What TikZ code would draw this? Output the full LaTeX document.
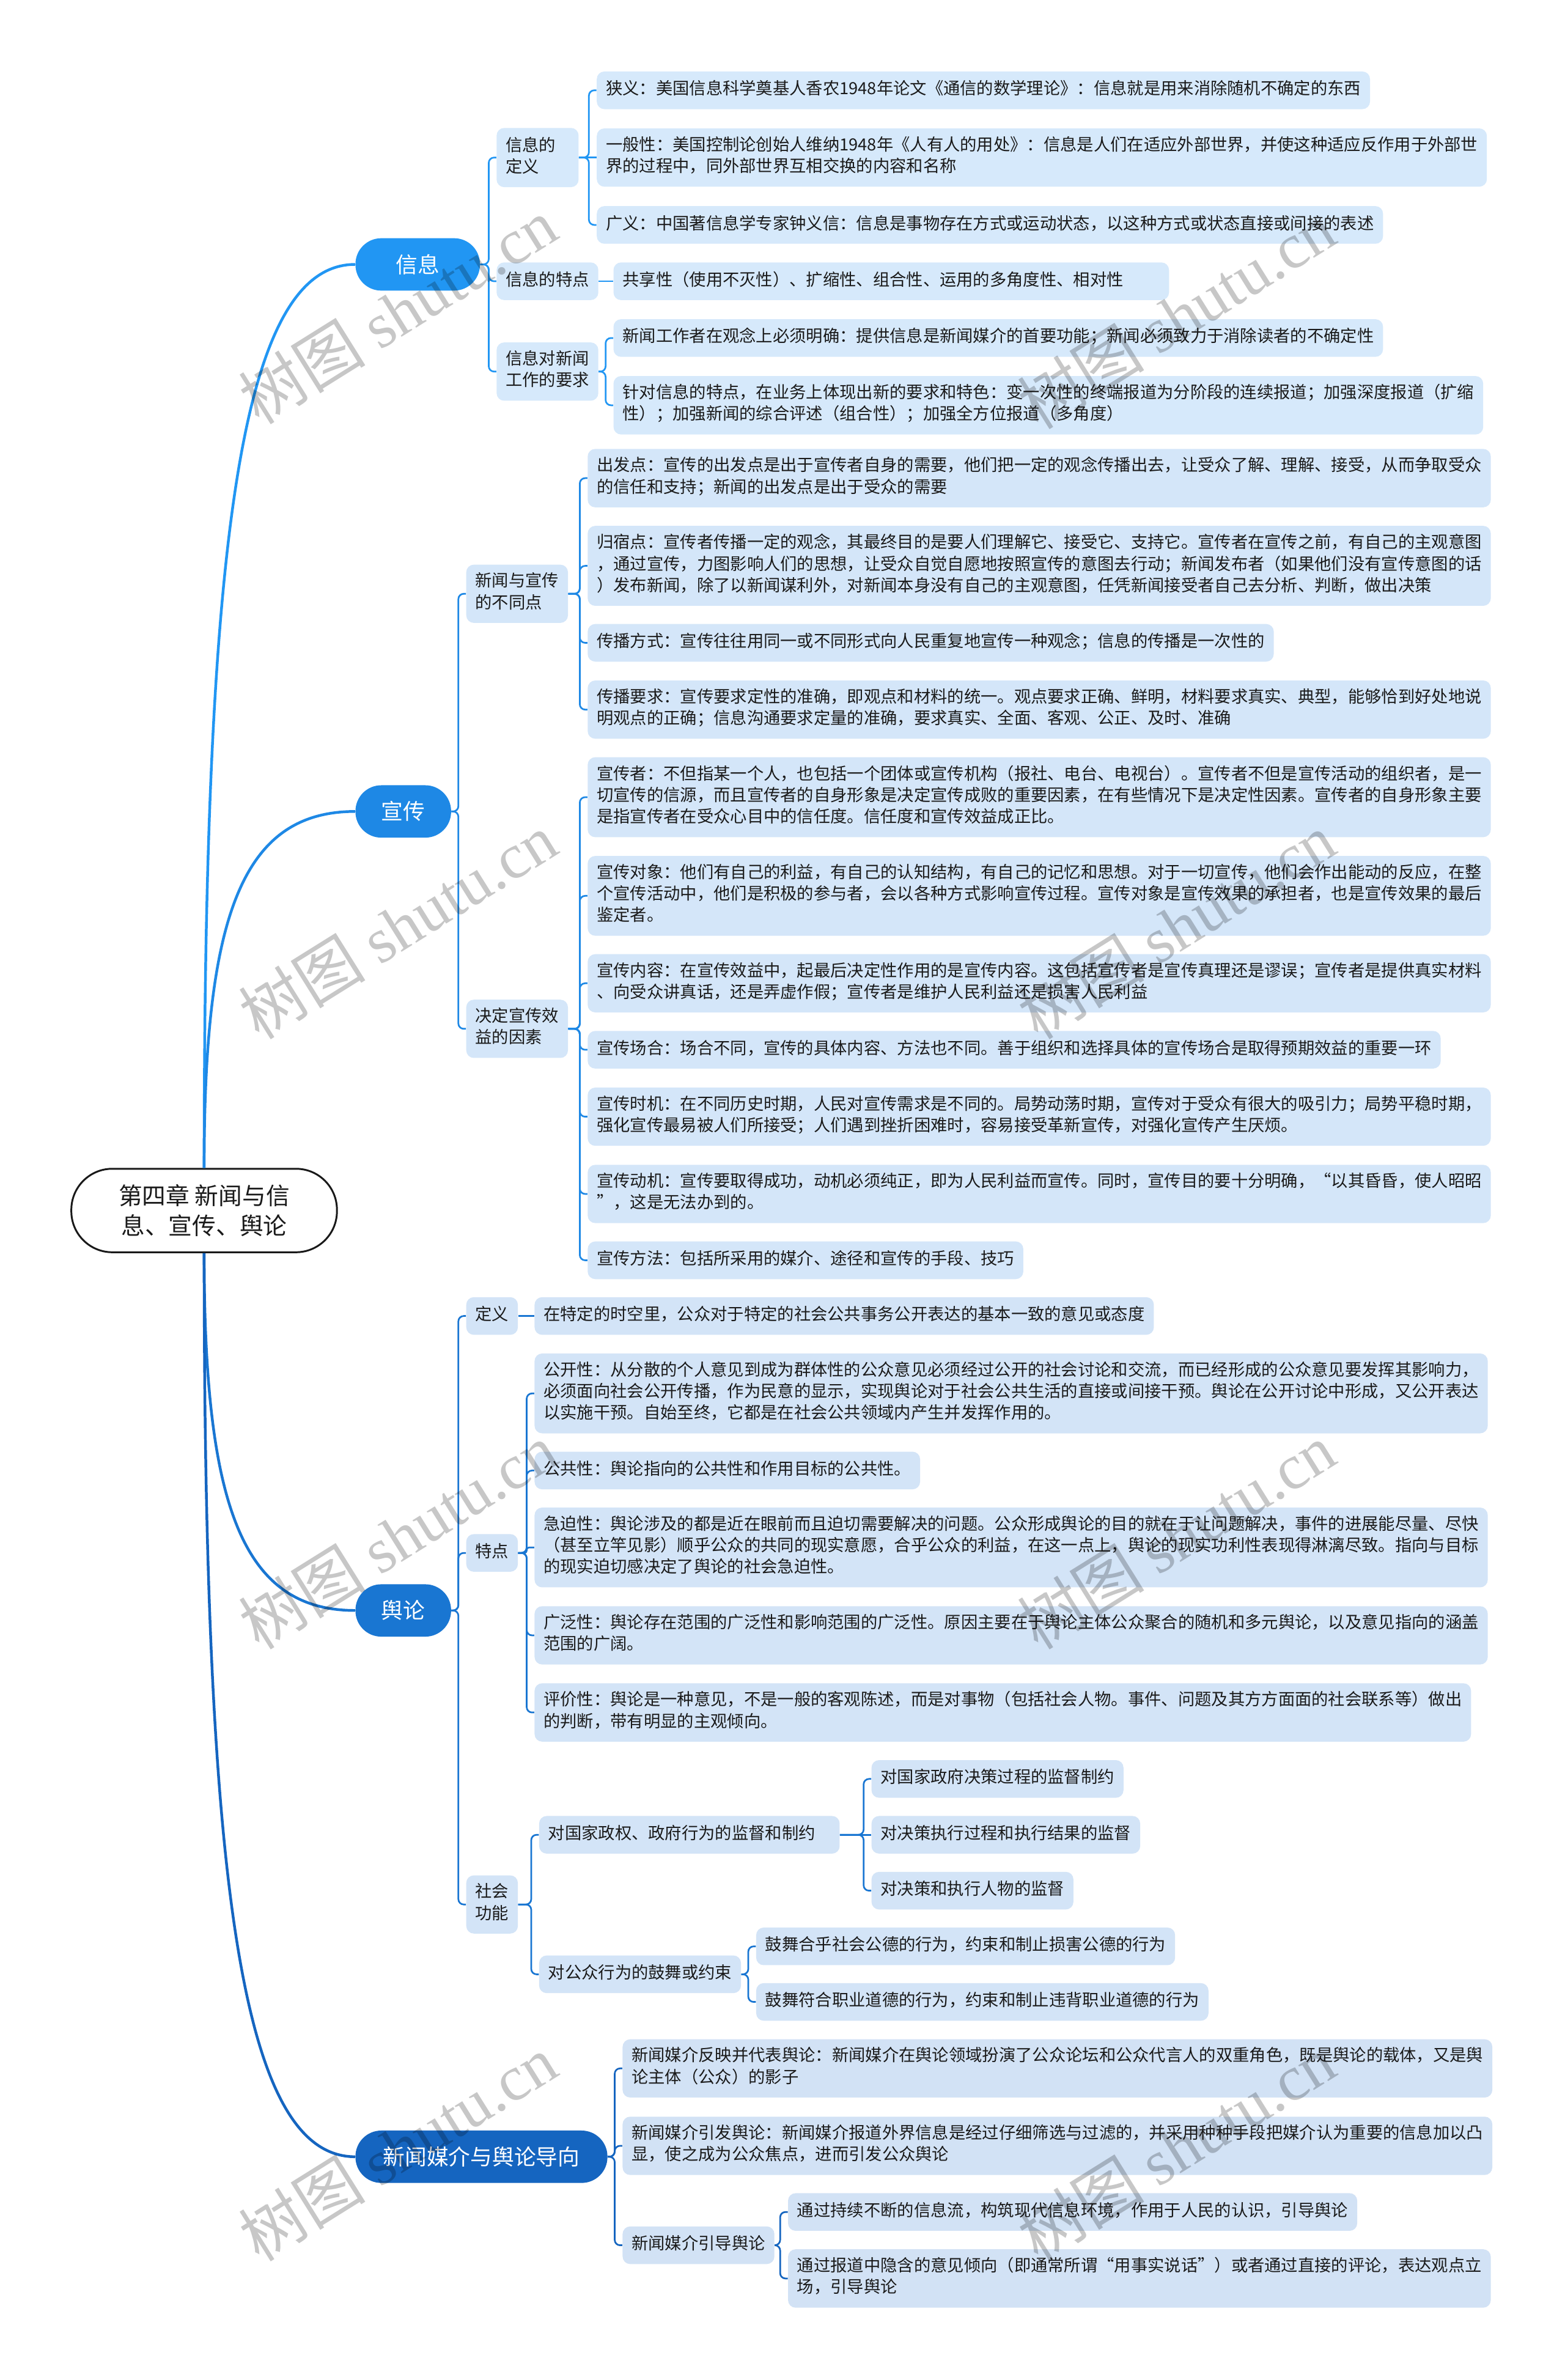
\documentclass[tikz,border=0pt]{standalone}
\usepackage{fontspec}
\setmainfont{Noto Sans CJK SC}
\newfontfamily\wmfont{Liberation Serif}
\definecolor{c1}{HTML}{2196F3}
\definecolor{c2}{HTML}{1E88E5}
\definecolor{c3}{HTML}{1976D2}
\definecolor{c4}{HTML}{1565C0}
\definecolor{f1}{HTML}{D6E9FB}
\definecolor{f2}{HTML}{D4E6F9}
\definecolor{f3}{HTML}{D3E4F7}
\definecolor{f4}{HTML}{D2E2F5}
\definecolor{txt}{HTML}{1A1A1A}
\tikzset{
  rootnode/.style={draw=black!90, line width=1.2pt, fill=white, rounded corners=27pt,
    minimum width=175pt, minimum height=55pt, align=center, text=txt,
    font=\fontsize{15.6}{20}\selectfont},
  lone/.style={fill=#1, text=white, rounded corners=17pt, minimum height=34.5pt,
    inner xsep=16pt, inner ysep=0pt, anchor=west, font=\fontsize{14.4}{17}\selectfont},
  leaf/.style={fill=#1, rounded corners=5pt, inner xsep=6pt, inner ysep=5.3pt,
    align=left, anchor=west, text=txt, font=\fontsize{11}{14.2}\selectfont,
    execute at begin node=\strut, execute at end node=\strut},
  conn/.style={draw=#1, line width=1.1pt, rounded corners=3.5pt},
  rconn/.style={draw=#1, line width=1.8pt},
  wm/.style={text=black, text opacity=0.22, rotate=32, font=\fontsize{42}{48}\selectfont}
}
\newcommand\mmlink[4][]{\draw[conn=#2,#1] (#3.east) -| ([xshift=-5pt]#4.west) -- (#4.west);}
\begin{document}
\begin{tikzpicture}[x=1pt,y=-1pt]
\fill[white] (0,0) rectangle (1031,1568);
\useasboundingbox (0,0) rectangle (1031,1568);

% root
\node[rootnode] (root) at (134.5,797.5) {第四章 新闻与信\\息、宣传、舆论};

% level 1
\node[lone=c1, minimum width=82pt] (n1) at (234,174.2) {信息};
\node[lone=c2, minimum width=63pt] (n2) at (234,534.6) {宣传};
\node[lone=c3, minimum width=63pt] (n3) at (234,1061) {舆论};
\node[lone=c4, minimum width=166pt] (n4) at (234,1420.9) {新闻媒介与舆论导向};

% 信息
\node[leaf=f1, text width=42pt] (a1) at (327,103.8) {信息的\\定义};
\node[leaf=f1] (a11) at (393,59.5) {狭义：美国信息科学奠基人香农1948年论文《通信的数学理论》：信息就是用来消除随机不确定的东西};
\node[leaf=f1] (a12) at (393,103.8) {一般性：美国控制论创始人维纳1948年《人有人的用处》：信息是人们在适应外部世界，并使这种适应反作用于外部世\\界的过程中，同外部世界互相交换的内容和名称};
\node[leaf=f1] (a13) at (393,148.2) {广义：中国著信息学专家钟义信：信息是事物存在方式或运动状态，以这种方式或状态直接或间接的表述};
\node[leaf=f1] (a2) at (327,185.3) {信息的特点};
\node[leaf=f1, text width=354pt] (a21) at (404,185.3) {共享性（使用不灭性）、扩缩性、组合性、运用的多角度性、相对性};
\node[leaf=f1] (a3) at (327,244.8) {信息对新闻\\工作的要求};
\node[leaf=f1] (a31) at (404,222.7) {新闻工作者在观念上必须明确：提供信息是新闻媒介的首要功能；新闻必须致力于消除读者的不确定性};
\node[leaf=f1] (a32) at (404,267) {针对信息的特点，在业务上体现出新的要求和特色：变一次性的终端报道为分阶段的连续报道；加强深度报道（扩缩\\性）；加强新闻的综合评述（组合性）；加强全方位报道（多角度）};

% 宣传
\node[leaf=f2] (b1) at (307,391.2) {新闻与宣传\\的不同点};
\node[leaf=f2] (b11) at (387,315) {出发点：宣传的出发点是出于宣传者自身的需要，他们把一定的观念传播出去，让受众了解、理解、接受，从而争取受众\\的信任和支持；新闻的出发点是出于受众的需要};
\node[leaf=f2] (b12) at (387,372.8) {归宿点：宣传者传播一定的观念，其最终目的是要人们理解它、接受它、支持它。宣传者在宣传之前，有自己的主观意图\\，通过宣传，力图影响人们的思想，让受众自觉自愿地按照宣传的意图去行动；新闻发布者（如果他们没有宣传意图的话\\）发布新闻，除了以新闻谋利外，对新闻本身没有自己的主观意图，任凭新闻接受者自己去分析、判断，做出决策};
\node[leaf=f2] (b13) at (387,423.5) {传播方式：宣传往往用同一或不同形式向人民重复地宣传一种观念；信息的传播是一次性的};
\node[leaf=f2] (b14) at (387,467.5) {传播要求：宣传要求定性的准确，即观点和材料的统一。观点要求正确、鲜明，材料要求真实、典型，能够恰到好处地说\\明观点的正确；信息沟通要求定量的准确，要求真实、全面、客观、公正、及时、准确};
\node[leaf=f2] (b2) at (307,677.8) {决定宣传效\\益的因素};
\node[leaf=f2] (b21) at (387,525.2) {宣传者：不但指某一个人，也包括一个团体或宣传机构（报社、电台、电视台）。宣传者不但是宣传活动的组织者，是一\\切宣传的信源，而且宣传者的自身形象是决定宣传成败的重要因素，在有些情况下是决定性因素。宣传者的自身形象主要\\是指宣传者在受众心目中的信任度。信任度和宣传效益成正比。};
\node[leaf=f2] (b22) at (387,590.2) {宣传对象：他们有自己的利益，有自己的认知结构，有自己的记忆和思想。对于一切宣传，他们会作出能动的反应，在整\\个宣传活动中，他们是积极的参与者，会以各种方式影响宣传过程。宣传对象是宣传效果的承担者，也是宣传效果的最后\\鉴定者。};
\node[leaf=f2] (b23) at (387,647.8) {宣传内容：在宣传效益中，起最后决定性作用的是宣传内容。这包括宣传者是宣传真理还是谬误；宣传者是提供真实材料\\、向受众讲真话，还是弄虚作假；宣传者是维护人民利益还是损害人民利益};
\node[leaf=f2] (b24) at (387,691.6) {宣传场合：场合不同，宣传的具体内容、方法也不同。善于组织和选择具体的宣传场合是取得预期效益的重要一环};
\node[leaf=f2] (b25) at (387,735.7) {宣传时机：在不同历史时期，人民对宣传需求是不同的。局势动荡时期，宣传对于受众有很大的吸引力；局势平稳时期，\\强化宣传最易被人们所接受；人们遇到挫折困难时，容易接受革新宣传，对强化宣传产生厌烦。};
\node[leaf=f2] (b26) at (387,786.6) {宣传动机：宣传要取得成功，动机必须纯正，即为人民利益而宣传。同时，宣传目的要十分明确，“以其昏昏，使人昭昭\\”，这是无法办到的。};
\node[leaf=f2] (b27) at (387,830.3) {宣传方法：包括所采用的媒介、途径和宣传的手段、技巧};

% 舆论
\node[leaf=f3] (e1) at (307,867) {定义};
\node[leaf=f3] (e11) at (352,867) {在特定的时空里，公众对于特定的社会公共事务公开表达的基本一致的意见或态度};
\node[leaf=f3] (e2) at (307,1023.1) {特点};
\node[leaf=f3] (e21) at (352,918) {公开性：从分散的个人意见到成为群体性的公众意见必须经过公开的社会讨论和交流，而已经形成的公众意见要发挥其影响力，\\必须面向社会公开传播，作为民意的显示，实现舆论对于社会公共生活的直接或间接干预。舆论在公开讨论中形成，又公开表达\\以实施干预。自始至终，它都是在社会公共领域内产生并发挥作用的。};
\node[leaf=f3] (e22) at (352,968.8) {公共性：舆论指向的公共性和作用目标的公共性。};
\node[leaf=f3] (e23) at (352,1019.5) {急迫性：舆论涉及的都是近在眼前而且迫切需要解决的问题。公众形成舆论的目的就在于让问题解决，事件的进展能尽量、尽快\\（甚至立竿见影）顺乎公众的共同的现实意愿，合乎公众的利益，在这一点上，舆论的现实功利性表现得淋漓尽致。指向与目标\\的现实迫切感决定了舆论的社会急迫性。};
\node[leaf=f3] (e24) at (352,1077.4) {广泛性：舆论存在范围的广泛性和影响范围的广泛性。原因主要在于舆论主体公众聚合的随机和多元舆论，以及意见指向的涵盖\\范围的广阔。};
\node[leaf=f3] (e25) at (352,1128.2) {评价性：舆论是一种意见，不是一般的客观陈述，而是对事物（包括社会人物。事件、问题及其方方面面的社会联系等）做出\\的判断，带有明显的主观倾向。};
\node[leaf=f3] (e3) at (307,1254.7) {社会\\功能};
\node[leaf=f3, text width=186pt] (e31) at (355,1208.8) {对国家政权、政府行为的监督和制约};
\node[leaf=f3] (e311) at (574,1172) {对国家政府决策过程的监督制约};
\node[leaf=f3] (e312) at (574,1208.8) {对决策执行过程和执行结果的监督};
\node[leaf=f3] (e313) at (574,1245.6) {对决策和执行人物的监督};
\node[leaf=f3] (e32) at (355,1300.7) {对公众行为的鼓舞或约束};
\node[leaf=f3] (e321) at (498,1282.3) {鼓舞合乎社会公德的行为，约束和制止损害公德的行为};
\node[leaf=f3] (e322) at (498,1318.9) {鼓舞符合职业道德的行为，约束和制止违背职业道德的行为};

% 新闻媒介与舆论导向
\node[leaf=f4] (d1) at (410,1362.7) {新闻媒介反映并代表舆论：新闻媒介在舆论领域扮演了公众论坛和公众代言人的双重角色，既是舆论的载体，又是舆\\论主体（公众）的影子};
\node[leaf=f4] (d2) at (410,1413.7) {新闻媒介引发舆论：新闻媒介报道外界信息是经过仔细筛选与过滤的，并采用种种手段把媒介认为重要的信息加以凸\\显，使之成为公众焦点，进而引发公众舆论};
\node[leaf=f4] (d3) at (410,1479.2) {新闻媒介引导舆论};
\node[leaf=f4] (d31) at (519,1457.3) {通过持续不断的信息流，构筑现代信息环境，作用于人民的认识，引导舆论};
\node[leaf=f4] (d32) at (519,1501.1) {通过报道中隐含的意见倾向（即通常所谓“用事实说话”）或者通过直接的评论，表达观点立\\场，引导舆论};

% root connectors
\draw[rconn=c1] (root.north) .. controls +(0,-417) and +(-75,0) .. (n1.west);
\draw[rconn=c2] (root.north) .. controls +(0,-165) and +(-75,0) .. (n2.west);
\draw[rconn=c3] (root.south) .. controls +(0,165) and +(-75,0) .. (n3.west);
\draw[rconn=c4] (root.south) .. controls +(0,417) and +(-75,0) .. (n4.west);

% 信息 connectors
\mmlink{c1}{n1}{a1}
\mmlink{c1}{n1}{a2}
\mmlink{c1}{n1}{a3}
\mmlink{c1}{a1}{a11}
\draw[conn=c1] (a1.east) -- (a12.west);
\mmlink{c1}{a1}{a13}
\draw[conn=c1] (a2.east) -- (a21.west);
\mmlink{c1}{a3}{a31}
\mmlink{c1}{a3}{a32}

% 宣传 connectors
\mmlink{c2}{n2}{b1}
\mmlink{c2}{n2}{b2}
\mmlink{c2}{b1}{b11}
\mmlink{c2}{b1}{b12}
\mmlink{c2}{b1}{b13}
\mmlink{c2}{b1}{b14}
\mmlink{c2}{b2}{b21}
\mmlink{c2}{b2}{b22}
\mmlink{c2}{b2}{b23}
\mmlink{c2}{b2}{b24}
\mmlink{c2}{b2}{b25}
\mmlink{c2}{b2}{b26}
\mmlink{c2}{b2}{b27}

% 舆论 connectors
\mmlink{c3}{n3}{e1}
\mmlink{c3}{n3}{e2}
\mmlink{c3}{n3}{e3}
\draw[conn=c3] (e1.east) -- (e11.west);
\mmlink{c3}{e2}{e21}
\mmlink{c3}{e2}{e22}
\mmlink[rounded corners=1.5pt]{c3}{e2}{e23}
\mmlink{c3}{e2}{e24}
\mmlink{c3}{e2}{e25}
\mmlink{c3}{e3}{e31}
\mmlink{c3}{e3}{e32}
\mmlink{c3}{e31}{e311}
\draw[conn=c3] (e31.east) -- (e312.west);
\mmlink{c3}{e31}{e313}
\mmlink{c3}{e32}{e321}
\mmlink{c3}{e32}{e322}

% 新闻媒介 connectors
\mmlink{c4}{n4}{d1}
\mmlink{c4}{n4}{d2}
\mmlink{c4}{n4}{d3}
\mmlink{c4}{d3}{d31}
\mmlink{c4}{d3}{d32}

% watermarks
\node[wm] (w1) at (262,205) {树图 {\wmfont shutu.cn}};
\node[wm] (w2) at (775,208) {树图 {\wmfont shutu.cn}};
\node[wm] (w3) at (262,610) {树图 {\wmfont shutu.cn}};
\node[wm] (w4) at (775,610) {树图 {\wmfont shutu.cn}};
\node[wm] (w5) at (262,1012) {树图 {\wmfont shutu.cn}};
\node[wm] (w6) at (775,1012) {树图 {\wmfont shutu.cn}};
\node[wm] (w7) at (262,1415) {树图 {\wmfont shutu.cn}};
\node[wm] (w8) at (775,1415) {树图 {\wmfont shutu.cn}};
\end{tikzpicture}
\end{document}
